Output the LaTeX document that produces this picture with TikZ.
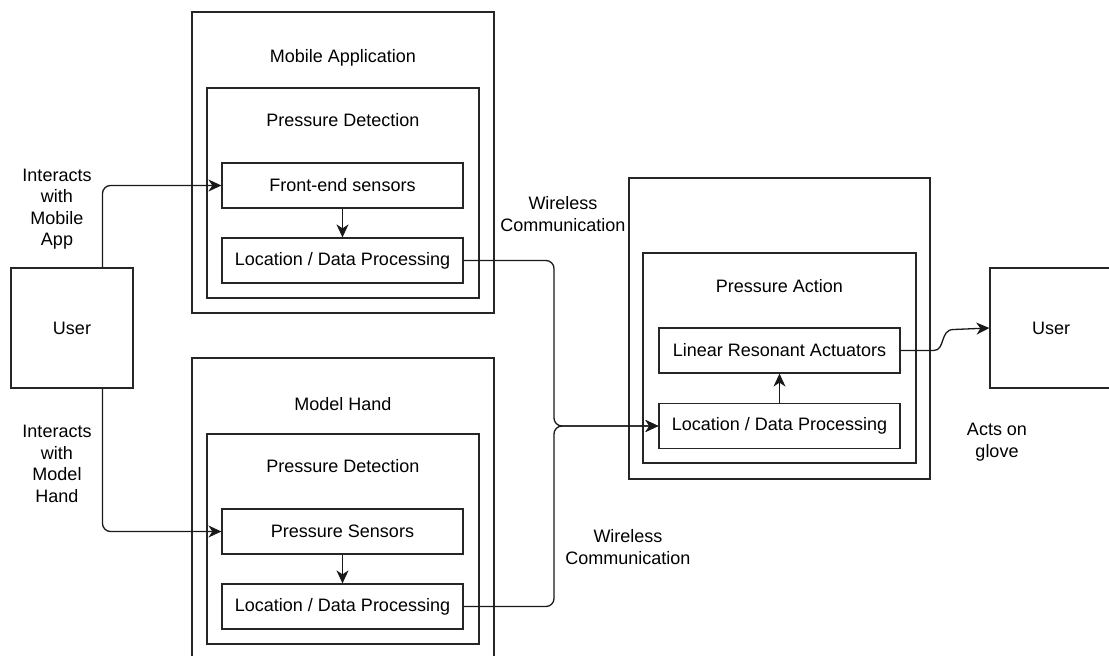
\documentclass[tikz,border=0pt]{standalone}
\usepackage{fontspec}
\setmainfont{Liberation Sans}
\usetikzlibrary{arrows.meta}

\begin{document}
\begin{tikzpicture}
[x=1pt,y=-1pt,font=\fontsize{18}{21.5}\selectfont,
  framedecorate/.style={shape=rectangle,draw=black!85,line width=1.2pt,inner sep=0pt},
  boxdecorate/.style={framedecorate,minimum width=241,minimum height=45},
  linedecorate/.style={draw=black!90,line width=1.3pt,-{Stealth[length=13pt,width=12pt,inset=4pt]}},
  labeldecorate/.style={align=center}]
\useasboundingbox (0,0) rectangle (1109,656);
% users
\node (userleft) at (72,328) [framedecorate,minimum width=122,minimum height=120] {User};
\node (userright) at (1051,328) [framedecorate,minimum width=122,minimum height=120] {User};
% mobile application
\node (mobile) at (343,162.5) [framedecorate,minimum width=302,minimum height=301] {};
\node (mobiletitle) at (343,58) {Mobile Application};
\node (mobiledetect) at (343,193) [framedecorate,minimum width=272,minimum height=210] {};
\node (mobiledetecttitle) at (343,120) {Pressure Detection};
\node (frontend) at (342.5,185.5) [boxdecorate] {Front-end sensors};
\node (locmobile) at (342.5,260.5) [boxdecorate] {Location / Data Processing};
% model hand
\node (hand) at (343,508.5) [framedecorate,minimum width=302,minimum height=301] {};
\node (handtitle) at (343,404) {Model Hand};
\node (handdetect) at (343,539) [framedecorate,minimum width=272,minimum height=210] {};
\node (handdetecttitle) at (343,466) {Pressure Detection};
\node (sensors) at (342.5,531.5) [boxdecorate] {Pressure Sensors};
\node (lochand) at (342.5,606.5) [boxdecorate] {Location / Data Processing};
% pressure action
\node (glove) at (779.5,328.5) [framedecorate,minimum width=301,minimum height=301] {};
\node (action) at (779.5,358) [framedecorate,minimum width=273,minimum height=210] {};
\node (actiontitle) at (779.5,286) {Pressure Action};
\node (actuators) at (779.5,350.5) [boxdecorate] {Linear Resonant Actuators};
\node (locaction) at (779.5,426) [boxdecorate] {Location / Data Processing};
% labels
\node (mobilelabel) at (57,209) [labeldecorate] {Interacts\\with\\Mobile\\App};
\node (handlabel) at (57,464) [labeldecorate] {Interacts\\with\\Model\\Hand};
\node (wirelessup) at (563,214) [labeldecorate] {Wireless\\Communication};
\node (wirelessdown) at (628,547) [labeldecorate] {Wireless\\Communication};
\node (actslabel) at (997,442) [labeldecorate] {Acts on\\glove};
\coordinate (join) at (554,426);
% edges or lines
\draw[linedecorate,rounded corners=8pt] ([xshift=30.5]userleft.north) |- (frontend.west);
\draw[linedecorate,rounded corners=8pt] ([xshift=30.5]userleft.south) |- (sensors.west);
\draw[linedecorate,rounded corners=8pt] (locmobile.east) -| (join) -- (locaction.west);
\draw[linedecorate,rounded corners=8pt] (lochand.east) -| (join) -- (locaction.west);
\draw[linedecorate] (actuators.east) -- ++(33,0) .. controls +(12,0) and +(-14,0) .. ++(20,-21) -- (userright.west);
\path
(frontend) edge[linedecorate] (locmobile)
(sensors) edge[linedecorate] (lochand)
(locaction) edge[linedecorate] (actuators);
\end{tikzpicture}
\end{document}
